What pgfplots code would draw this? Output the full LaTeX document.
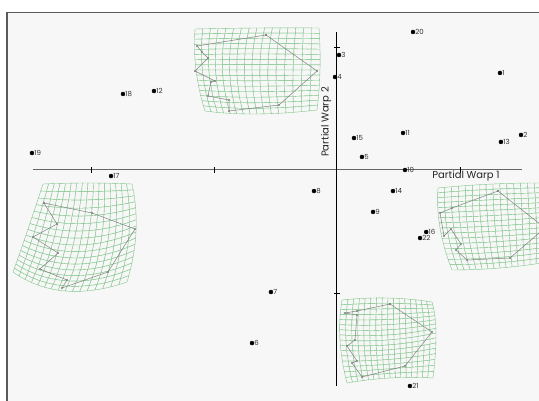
\documentclass[border=0pt]{standalone}
\usepackage{pgfplots}
\pgfplotsset{compat=1.18}
\usepgfplotslibrary{patchplots}
\usepackage{fontspec}
\setmainfont{Poppins}
\definecolor{bg}{RGB}{247,247,247}
\definecolor{framec}{RGB}{90,90,90}
\definecolor{gridgreen}{RGB}{130,198,140}
\definecolor{polyc}{RGB}{130,130,130}
\begin{document}
\begin{tikzpicture}
% ---------- pixel-space layer: frame and deformation grids ----------
\begin{axis}[at={(0,0)}, anchor=south west, scale only axis, width=539pt, height=401pt,
  xmin=0, xmax=539, ymin=0, ymax=401, y dir=reverse,
  axis line style={draw=none}, ticks=none,
  axis background/.style={fill=white}, clip=true,
  colormap={bgmap}{color=(bg) color=(bg)}]
\fill[bg] (axis cs:6,12) rectangle (axis cs:600,450);
\draw[framec, line width=1.5pt] (axis cs:6.75,450) -- (axis cs:6.75,12.75) -- (axis cs:600,12.75);
% inset A (top)
\addplot[patch, patch type=biquadratic, patch refines=4, shader=faceted, faceted color=gridgreen,
  line width=0.4pt, point meta=0, point meta min=0, point meta max=1] table {
x y
195 29
319 28
317 110
205 111
257 28
320 70
257 114
196 70
252 70
};
\addplot[polyc, line width=0.5pt, mark=o, mark size=0.8pt] coordinates {
(266,35) (317,71) (279,105) (229,111) (229,100) (208,96) (211,82) (215,81) (195,71) (208,58) (202,52) (197,46) (266,35)};
% inset B (bottom left)
\addplot[patch, patch type=biquadratic, patch refines=4, shader=faceted, faceted color=gridgreen,
  line width=0.4pt, point meta=0, point meta min=0, point meta max=1] table {
x y
43 184
132 184
127 282
13 272
88 183
136 232
65 291
26 235
80 245
};
\addplot[polyc, line width=0.5pt, mark=o, mark size=0.8pt] coordinates {
(44,203) (92,213) (135,229) (108,272) (62,288) (67,280) (40,269) (58,253) (33,237) (57,224) (44,203)};
% inset C (right)
\addplot[patch, patch type=biquadratic, patch refines=4, shader=faceted, faceted color=gridgreen,
  line width=0.4pt, point meta=0, point meta min=0, point meta max=1] table {
x y
438 188
548 183
548 262
452 270
493 184
550 222
500 268
440 228
495 226
};
\addplot[polyc, line width=0.5pt, mark=o, mark size=0.8pt] coordinates {
(498,191) (545,228) (510,258) (467,260) (456,250) (461,244) (451,229) (444,236) (440,213) (452,208) (498,191)};
% inset D (bottom middle)
\addplot[patch, patch type=biquadratic, patch refines=4, shader=faceted, faceted color=gridgreen,
  line width=0.4pt, point meta=0, point meta min=0, point meta max=1] table {
x y
342 300
432 302
433 378
347 383
388 298
436 333
390 378
340 340
388 340
};
\addplot[polyc, line width=0.5pt, mark=o, mark size=0.8pt] coordinates {
(390,304) (432,332) (405,366) (362,377) (352,363) (357,361) (347,346) (355,340) (357,315) (345,313) (357,311) (390,304)};
\end{axis}
% ---------- data layer: partial warp scores ----------
\begin{axis}[at={(0,0)}, anchor=south west, scale only axis, width=539pt, height=401pt,
  xmin=-2.7398, xmax=1.6423, ymin=-1.8780, ymax=1.3821,
  axis line style={draw=none}, ticks=none, clip=false]
\addplot[black!60, line width=1pt] coordinates {(-2.472,0) (1.504,0)};
\addplot[black, line width=1pt] coordinates {(0,1.122) (0,-1.756)};
\addplot[black, line width=0.6pt] coordinates {(-2,-0.025) (-2,0.025)};
\addplot[black, line width=0.6pt] coordinates {(-1,-0.025) (-1,0.025)};
\addplot[black, line width=0.6pt] coordinates {(1,-0.025) (1,0.025)};
\addplot[black, line width=0.6pt] coordinates {(-0.025,1) (0.025,1)};
\addplot[black, line width=0.6pt] coordinates {(-0.025,-1) (0.025,-1)};
\addplot[only marks, mark=*, mark size=2pt, black,
  nodes near coords, point meta=explicit symbolic,
  nodes near coords style={anchor=west, font=\fontsize{7}{8}\selectfont, inner sep=0pt, xshift=2.2pt, text=black!80}]
  table[meta=label] {
x y label
1.325 0.789 1
1.496 0.285 2
0.016 0.935 3
-0.016 0.756 4
0.203 0.106 5
-0.691 -1.407 6
-0.537 -0.992 7
-0.187 -0.171 8
0.293 -0.341 9
0.553 0.0 10
0.537 0.301 11
-1.488 0.642 12
1.333 0.228 13
0.455 -0.171 14
0.138 0.260 15
0.725 -0.504 16
-1.837 -0.049 17
-1.740 0.618 18
-2.480 0.138 19
0.618 1.122 20
0.593 -1.756 21
0.675 -0.553 22
};
\node[font=\fontsize{10}{12}\selectfont, text=black!85] at (axis cs:1.049,-0.049) {Partial Warp 1};
\node[font=\fontsize{10}{12}\selectfont, text=black!85, rotate=90] at (axis cs:-0.089,0.39) {Partial Warp 2};
\end{axis}
\end{tikzpicture}
\end{document}
